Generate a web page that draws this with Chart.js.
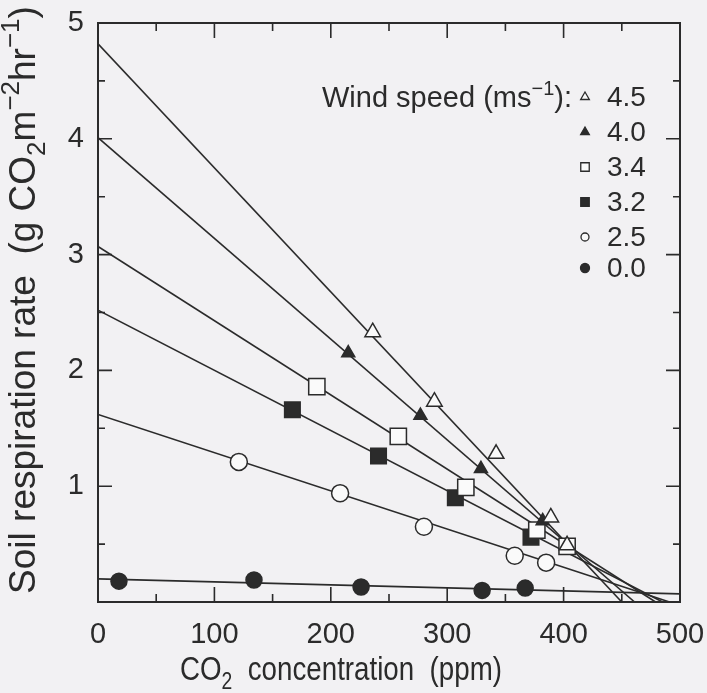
<!DOCTYPE html>
<html>
<head>
<meta charset="utf-8">
<script src="https://cdn.jsdelivr.net/npm/chart.js@4/dist/chart.umd.min.js"></script>
<style>
  html, body { margin: 0; padding: 0; background: #f2f1f3; }
  #wrap { width: 707px; height: 693px; }
</style>
</head>
<body>
<div id="wrap"><canvas id="chart" width="707" height="693"></canvas></div>
<script>
const speedLabels = ['4.5', '4.0', '3.4', '3.2', '2.5', '0.0'];

// measured respiration (g CO2 m-2 hr-1) against CO2 concentration (ppm)
const co2At45 = [236, 289, 342, 389, 403];
const respAt45 = [2.33, 1.73, 1.28, 0.73, 0.49];
const co2At40 = [215, 277, 329, 382];
const respAt40 = [2.15, 1.61, 1.15, 0.70];
const co2At34 = [188, 258, 316, 377, 403];
const respAt34 = [1.86, 1.43, 0.99, 0.62, 0.48];
const co2At32 = [167, 241, 307, 372];
const respAt32 = [1.66, 1.26, 0.90, 0.56];
const co2At25 = [121, 208, 280, 358, 385];
const respAt25 = [1.21, 0.94, 0.65, 0.40, 0.34];
const co2At00 = [18, 134, 226, 330, 367];
const respAt00 = [0.18, 0.19, 0.13, 0.10, 0.12];

// fitted lines: start at 0 ppm, end where they leave the plot
const fitStartResp = [4.82, 4.01, 3.07, 2.52, 1.62, 0.20];
const fitEndCo2 = [450, 461, 479, 485, 491, 500];
const fitEndResp = [0, 0, 0, 0, 0, 0.07];

const co2Sets = [co2At45, co2At40, co2At34, co2At32, co2At25, co2At00];
const respSets = [respAt45, respAt40, respAt34, respAt32, respAt25, respAt00];

const markerStyle = ['triangle', 'triangle', 'rect', 'rect', 'circle', 'circle'];
const markerFilled = [false, true, false, true, false, true];
const markerRadius = [9, 7.5, 11.5, 11, 8.5, 8];
const legendRadius = [5, 5, 6, 6, 4, 4.5];

const ink = '#2b2b2b';
const paper = '#fafafa';
const FONT = '"Liberation Sans", Arial, Helvetica, sans-serif';

const datasets = [];
speedLabels.forEach((s, i) => {
  datasets.push({
    label: s,
    data: co2Sets[i].map((c, j) => ({ x: c, y: respSets[i][j] })),
    showLine: false,
    pointStyle: markerStyle[i],
    pointRadius: markerRadius[i],
    pointBackgroundColor: markerFilled[i] ? ink : paper,
    pointBorderColor: ink,
    pointBorderWidth: 1.5,
    order: 0
  });
});
speedLabels.forEach((s, i) => {
  datasets.push({
    label: s + ' fit',
    data: [{ x: 0, y: fitStartResp[i] }, { x: fitEndCo2[i], y: fitEndResp[i] }],
    showLine: true,
    borderColor: ink,
    borderWidth: 1.6,
    pointRadius: 0,
    order: 1
  });
});

function richWidth(ctx, parts, size) {
  let w = 0;
  parts.forEach(([t, k]) => {
    ctx.font = (k === 'n' ? size : Math.round(size * 0.7)) + 'px ' + FONT;
    w += ctx.measureText(t).width;
  });
  return w;
}

// text with sub/superscript pieces, centred on x (hs squeezes it sideways)
function drawRich(ctx, parts, x, y, size, hs = 1) {
  const w = richWidth(ctx, parts, size);
  ctx.save();
  ctx.translate(x, y);
  ctx.scale(hs, 1);
  let cx = -w / 2;
  ctx.textAlign = 'left';
  ctx.textBaseline = 'alphabetic';
  parts.forEach(([t, k]) => {
    ctx.font = (k === 'n' ? size : Math.round(size * 0.7)) + 'px ' + FONT;
    const dy = k === 'sub' ? size * 0.26 : k === 'sup' ? -size * 0.42 : 0;
    ctx.fillText(t, cx, dy);
    cx += ctx.measureText(t).width;
  });
  ctx.restore();
}

function drawMarker(ctx, style, filled, x, y, r) {
  ctx.beginPath();
  if (style === 'circle') {
    ctx.arc(x, y, r, 0, Math.PI * 2);
  } else if (style === 'rect') {
    const h = r * Math.SQRT1_2;
    ctx.rect(x - h, y - h, 2 * h, 2 * h);
  } else {
    for (let k = 0; k < 3; k++) {
      const a = k * 2 * Math.PI / 3;
      const px = x + Math.sin(a) * r, py = y - Math.cos(a) * r;
      k === 0 ? ctx.moveTo(px, py) : ctx.lineTo(px, py);
    }
    ctx.closePath();
  }
  ctx.fillStyle = filled ? ink : paper;
  ctx.fill();
  ctx.stroke();
}

const frameAndTicks = {
  id: 'frameAndTicks',
  afterDatasetsDraw(chart) {
    const { ctx, chartArea: a, scales: { x, y } } = chart;
    ctx.save();
    ctx.strokeStyle = ink;
    ctx.lineWidth = 2;
    ctx.strokeRect(a.left, a.top, a.right - a.left, a.bottom - a.top);
    ctx.lineWidth = 1.6;
    ctx.beginPath();
    for (let v = 50; v < 500; v += 50) {
      const px = x.getPixelForValue(v);
      const len = v % 100 === 0 ? 15 : 8;
      ctx.moveTo(px, a.bottom); ctx.lineTo(px, a.bottom - len);
      ctx.moveTo(px, a.top); ctx.lineTo(px, a.top + len);
    }
    for (let v = 0.5; v < 5; v += 0.5) {
      const py = y.getPixelForValue(v);
      const len = v % 1 === 0 ? 14 : 7;
      ctx.moveTo(a.left, py); ctx.lineTo(a.left + len, py);
      ctx.moveTo(a.right, py); ctx.lineTo(a.right - len, py);
    }
    ctx.stroke();
    ctx.restore();
  }
};

const titlesAndKey = {
  id: 'titlesAndKey',
  afterDraw(chart) {
    const { ctx } = chart;
    ctx.save();
    ctx.fillStyle = ink;

    drawRich(ctx, [['CO', 'n'], ['2', 'sub'], ['  concentration  (ppm)', 'n']], 341, 680, 33, 0.84);

    ctx.save();
    ctx.translate(35, 300);
    ctx.rotate(-Math.PI / 2);
    drawRich(ctx, [
      ['Soil respiration rate  (g CO', 'n'], ['2', 'sub'], ['m', 'n'],
      ['\u22122', 'sup'], ['hr', 'n'], ['\u22121', 'sup'], [')', 'n']
    ], 0, 0, 37);
    ctx.restore();

    // key
    const rowY = [97, 132, 167, 202, 237, 268];
    const hdr = [['Wind speed (ms', 'n'], ['\u22121', 'sup'], ['):', 'n']];
    const hw = richWidth(ctx, hdr, 29);
    drawRich(ctx, hdr, 572 - hw / 2, 107, 29);

    ctx.strokeStyle = ink;
    ctx.lineWidth = 1.3;
    speedLabels.forEach((s, i) => {
      drawMarker(ctx, markerStyle[i], markerFilled[i], 585, rowY[i], legendRadius[i]);
      ctx.font = '28px ' + FONT;
      ctx.textAlign = 'left';
      ctx.textBaseline = 'middle';
      ctx.fillStyle = ink;
      ctx.fillText(s, 607, rowY[i] + 1);
    });
    ctx.restore();
  }
};

new Chart(document.getElementById('chart'), {
  type: 'scatter',
  data: { datasets },
  options: {
    responsive: false,
    animation: false,
    layout: { padding: { top: 23, right: 27, left: 0, bottom: 0 } },
    plugins: { legend: { display: false }, tooltip: { enabled: false } },
    scales: {
      x: {
        type: 'linear', min: 0, max: 500,
        border: { display: false },
        grid: { display: false, drawTicks: false },
        ticks: { stepSize: 100, color: ink, font: { family: FONT, size: 29 }, padding: 16, maxRotation: 0 },
        afterFit: s => { s.height = 91; s.paddingLeft = 0; s.paddingRight = 0; }
      },
      y: {
        type: 'linear', min: 0, max: 5,
        border: { display: false },
        grid: { display: false, drawTicks: false },
        ticks: { stepSize: 1, color: ink, font: { family: FONT, size: 29 }, padding: 14,
                 callback: v => (v === 0 ? '' : v) },
        afterFit: s => { s.width = 98; s.paddingTop = 0; s.paddingBottom = 0; }
      }
    }
  },
  plugins: [frameAndTicks, titlesAndKey]
});
</script>
</body>
</html>
